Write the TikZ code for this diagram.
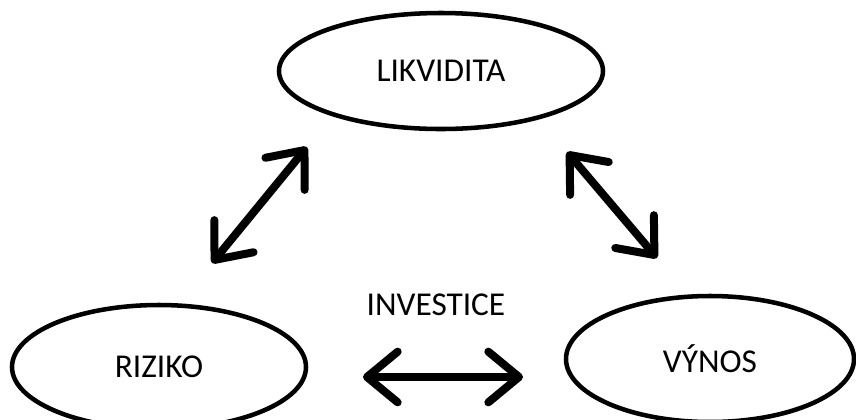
\documentclass[tikz,border=0pt]{standalone}
\usepackage{fontspec}
\setmainfont{Carlito}
\usetikzlibrary{arrows.meta,shapes.geometric}

\begin{document}
\begin{tikzpicture}[x=0.75pt,y=-0.75pt,font=\fontsize{25}{30}\selectfont,
  >={Straight Barb[round,length=23pt,width=38pt]},
  bubble/.style={draw,ellipse,line width=3.4pt,inner sep=0pt},
  link/.style={<->,line width=6pt,line cap=round}]
\useasboundingbox (0,0) rectangle (856,419);
% the three ellipses
\node[bubble,minimum width=243pt,minimum height=87pt] (lik) at (441,71) {LIKVIDITA};
\node[bubble,minimum width=220.5pt,minimum height=93pt] (riz) at (159,367) {RIZIKO};
\node[bubble,minimum width=216pt,minimum height=94.5pt] (vyn) at (710,359) {VÝNOS};
\node (inv) at (436,305) {INVESTICE};
% arrow ends
\coordinate (likL) at (307,147);
\coordinate (likR) at (567,152);
\coordinate (rizT) at (212,263);
\coordinate (rizR) at (363,377);
\coordinate (vynT) at (657,258);
\coordinate (vynL) at (523,377);
% arrows
\draw[link] (rizT) -- (likL);
\draw[link] (likR) -- (vynT);
\draw[link] (rizR) -- (vynL);
\end{tikzpicture}
\end{document}
